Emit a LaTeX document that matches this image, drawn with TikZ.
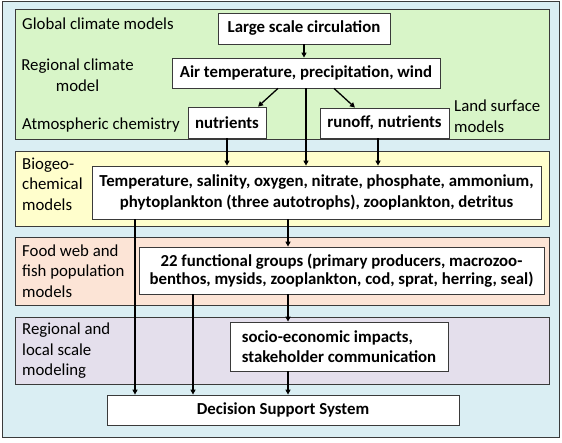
\documentclass[tikz,border=0pt]{standalone}
\usepackage{fontspec}
\setmainfont{Carlito}
\usepackage{tikz}
\usetikzlibrary{positioning,arrows.meta}
\definecolor{FrameBlue}{HTML}{DAEEF3}
\definecolor{ClimGreen}{HTML}{D8F5C8}
\definecolor{BioYellow}{HTML}{FFFECC}
\definecolor{FoodPeach}{HTML}{FCE4D6}
\definecolor{SocPurple}{HTML}{E4DFEC}
\definecolor{EdgeGray}{HTML}{3A3A3A}
\tikzset{
  panel/.style={draw=EdgeGray,line width=0.8pt,anchor=north west,
    minimum width=534pt,inner sep=0pt},
  box/.style={draw=EdgeGray,fill=white,line width=0.8pt,
    font=\fontsize{16.8}{20.5}\selectfont\bfseries,align=center,inner sep=3pt},
  lbl/.style={font=\fontsize{16.8}{20.5}\selectfont,align=left,anchor=west,inner sep=0pt},
  arr/.style={line width=1.3pt,-{Triangle[length=5pt,width=5pt]}},
}
\begin{document}
\begin{tikzpicture}[x=1pt,y=-1pt]
  \useasboundingbox (0,0) rectangle (562,442);
  \node[draw=EdgeGray,line width=1.2pt,fill=FrameBlue,anchor=north west,
    minimum width=557pt,minimum height=436pt,inner sep=0pt] (frame) at (2,1) {};
  % model layers
  \node[panel,fill=ClimGreen,minimum height=130pt] (climate) at (15,9) {};
  \node[panel,fill=BioYellow,minimum height=75pt] (biogeo) at (15,151) {};
  \node[panel,fill=FoodPeach,minimum height=68pt] (foodweb) at (15,237) {};
  \node[panel,fill=SocPurple,minimum height=67pt] (regional) at (15,317) {};
  % layer labels
  \node[lbl] (gcm) at (22,24) {Global climate models};
  \node[lbl,align=center,anchor=center] (rcm) at (77.5,75) {Regional climate\\model};
  \node[lbl] (atm) at (22,125) {Atmospheric chemistry};
  \node[lbl] (lsm) at (454,116) {Land surface\\models};
  \node[lbl] (bgc) at (22,184) {Biogeo-\\chemical\\models};
  \node[lbl] (fwm) at (22,271) {Food web and\\fish population\\models};
  \node[lbl] (rlm) at (22,351) {Regional and\\local scale\\modeling};
  % boxes
  \node[box,minimum width=172pt,minimum height=31pt] (large) at (304,28.5) {Large scale circulation};
  \node[box,minimum width=268pt,minimum height=30pt] (air) at (306,73) {Air temperature, precipitation, wind};
  \node[box,minimum width=78pt,minimum height=31pt] (nut) at (227,122.5) {nutrients};
  \node[box,minimum width=129pt,minimum height=30pt] (run) at (384.5,123) {runoff, nutrients};
  \node[box,minimum width=449pt,minimum height=53pt] (bio) at (316.5,192.5)
    {Temperature, salinity, oxygen, nitrate, phosphate, ammonium,\\phytoplankton (three autotrophs), zooplankton, detritus};
  \node[box,minimum width=405pt,minimum height=47pt,font=\fontsize{16.8}{18.5}\selectfont\bfseries] (food) at (341.5,270.5)
    {22 functional groups (primary producers, macrozoo-\\benthos, mysids, zooplankton, cod, sprat, herring, seal)};
  \node[box,minimum width=218pt,minimum height=49pt,align=left] (soc) at (339,346.5)
    {socio-economic impacts,\\stakeholder communication};
  \node[box,minimum width=352pt,minimum height=30pt] (dss) at (283,410) {Decision Support System};
  % columns of the long connectors
  \coordinate (colA) at (135,0);
  \coordinate (colB) at (193,0);
  \coordinate (colC) at (288,0);
  % connectors
  \draw[arr] (large.south) -- (large.south |- air.north);
  \draw[arr] ([xshift=-28pt]air.south) -- ([xshift=31pt]nut.north);
  \draw[arr] ([xshift=28pt]air.south) -- ([xshift=-29.5pt]run.north);
  \draw[arr] (air.south) -- (air.south |- bio.north);
  \draw[arr] (nut.south) -- (nut.south |- bio.north);
  \draw[arr] ([xshift=-6.5pt]run.south) -- ([xshift=-6.5pt]run.south |- bio.north);
  \draw[arr] (bio.south -| colC) -- (food.north -| colC);
  \draw[arr] (food.south -| colC) -- (soc.north -| colC);
  \draw[arr] (soc.south -| colC) -- (dss.north -| colC);
  \draw[arr] (bio.south -| colA) -- (dss.north -| colA);
  \draw[arr] (food.south -| colB) -- (dss.north -| colB);
\end{tikzpicture}
\end{document}
